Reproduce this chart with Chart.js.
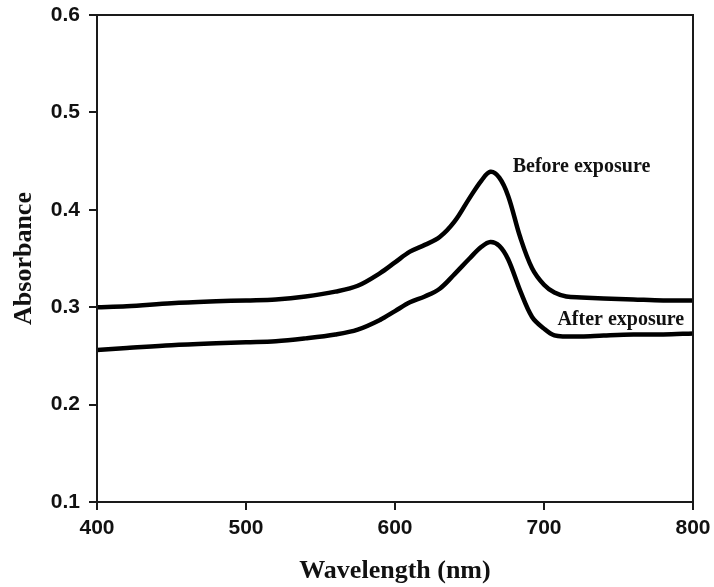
<!DOCTYPE html>
<html>
<head>
<meta charset="utf-8">
<script src="https://cdn.jsdelivr.net/npm/chart.js@4"></script>
<style>
  html, body { margin: 0; padding: 0; background: #fff; }
  #wrap { width: 714px; height: 587px; }
</style>
</head>
<body>
<div id="wrap"><canvas id="chart" width="714" height="587"></canvas></div>
<script>
// wavelength (nm) samples
const wavelengths = [400, 420, 450, 480, 500, 520, 540, 560, 575, 590, 600, 610, 620, 630, 640, 650, 658, 664, 670, 676, 684, 692, 700, 707, 715, 725, 740, 760, 780, 800];
const beforeExposure = [0.300, 0.301, 0.304, 0.306, 0.307, 0.308, 0.311, 0.316, 0.322, 0.335, 0.346, 0.357, 0.364, 0.372, 0.388, 0.412, 0.430, 0.439, 0.433, 0.414, 0.372, 0.340, 0.323, 0.315, 0.311, 0.310, 0.309, 0.308, 0.307, 0.307];
const afterExposure = [0.256, 0.258, 0.261, 0.263, 0.264, 0.265, 0.268, 0.272, 0.277, 0.287, 0.296, 0.305, 0.311, 0.319, 0.334, 0.350, 0.362, 0.367, 0.363, 0.349, 0.317, 0.290, 0.278, 0.271, 0.270, 0.270, 0.271, 0.272, 0.272, 0.273];

const xTicks = [400, 500, 600, 700, 800];
const yTicks = [0.1, 0.2, 0.3, 0.4, 0.5, 0.6];

// curve labels, placed in data coordinates
const labelTexts = ['Before exposure', 'After exposure'];
const labelX = [679, 709];
const labelY = [0.444, 0.287];

const axisColor = '#1a1a1a';

const toPoints = (ys) => wavelengths.map((w, i) => ({ x: w, y: ys[i] }));

const frameAndLabels = {
    id: 'frameAndLabels',
    afterDatasetsDraw(chart) {
        const { ctx, chartArea, scales } = chart;
        ctx.save();
        ctx.strokeStyle = axisColor;
        ctx.lineWidth = 2;
        ctx.strokeRect(chartArea.left, chartArea.top, chartArea.right - chartArea.left, chartArea.bottom - chartArea.top);
        ctx.fillStyle = '#111';
        ctx.font = 'bold 20px "Liberation Serif", "Times New Roman", serif';
        ctx.textBaseline = 'middle';
        ctx.textAlign = 'left';
        labelTexts.forEach((t, i) => {
            ctx.fillText(t, scales.x.getPixelForValue(labelX[i]), scales.y.getPixelForValue(labelY[i]));
        });
        ctx.restore();
    }
};

new Chart(document.getElementById('chart'), {
    type: 'line',
    data: {
        datasets: [
            { label: 'Before exposure', data: toPoints(beforeExposure), borderColor: '#000', borderWidth: 4.5, pointRadius: 0, tension: 0.35, fill: false },
            { label: 'After exposure', data: toPoints(afterExposure), borderColor: '#000', borderWidth: 4.5, pointRadius: 0, tension: 0.35, fill: false }
        ]
    },
    options: {
        responsive: false,
        animation: false,
        layout: { padding: { left: 0, right: 21, top: 15, bottom: 0 } },
        plugins: { legend: { display: false }, tooltip: { enabled: false } },
        scales: {
            x: {
                type: 'linear',
                min: 400,
                max: 800,
                afterBuildTicks: (axis) => { axis.ticks = xTicks.map(v => ({ value: v })); },
                afterFit: (axis) => { axis.height = 85; axis.paddingLeft = 0; axis.paddingRight = 0; },
                ticks: {
                    color: '#111',
                    padding: 6,
                    maxRotation: 0,
                    font: { family: '"Liberation Sans", Arial, sans-serif', size: 21, weight: 'bold' }
                },
                grid: { display: true, drawOnChartArea: false, drawTicks: true, tickLength: 8, color: axisColor, lineWidth: 2 },
                border: { display: true, color: axisColor, width: 2 },
                title: {
                    display: true,
                    text: 'Wavelength (nm)',
                    color: '#111',
                    padding: { top: 0, bottom: 0 },
                    font: { family: '"Liberation Serif", "Times New Roman", serif', size: 26, weight: 'bold' }
                }
            },
            y: {
                min: 0.1,
                max: 0.6,
                afterBuildTicks: (axis) => { axis.ticks = yTicks.map(v => ({ value: v })); },
                afterFit: (axis) => { axis.width = 97; axis.paddingTop = 0; axis.paddingBottom = 0; },
                ticks: {
                    color: '#111',
                    padding: 9,
                    callback: (v) => v.toFixed(1),
                    font: { family: '"Liberation Sans", Arial, sans-serif', size: 21, weight: 'bold' }
                },
                grid: { display: true, drawOnChartArea: false, drawTicks: true, tickLength: 8, color: axisColor, lineWidth: 2 },
                border: { display: true, color: axisColor, width: 2 },
                title: {
                    display: true,
                    text: 'Absorbance',
                    color: '#111',
                    padding: { top: 9, bottom: 0 },
                    font: { family: '"Liberation Serif", "Times New Roman", serif', size: 26, weight: 'bold' }
                }
            }
        }
    },
    plugins: [frameAndLabels]
});
</script>
</body>
</html>
